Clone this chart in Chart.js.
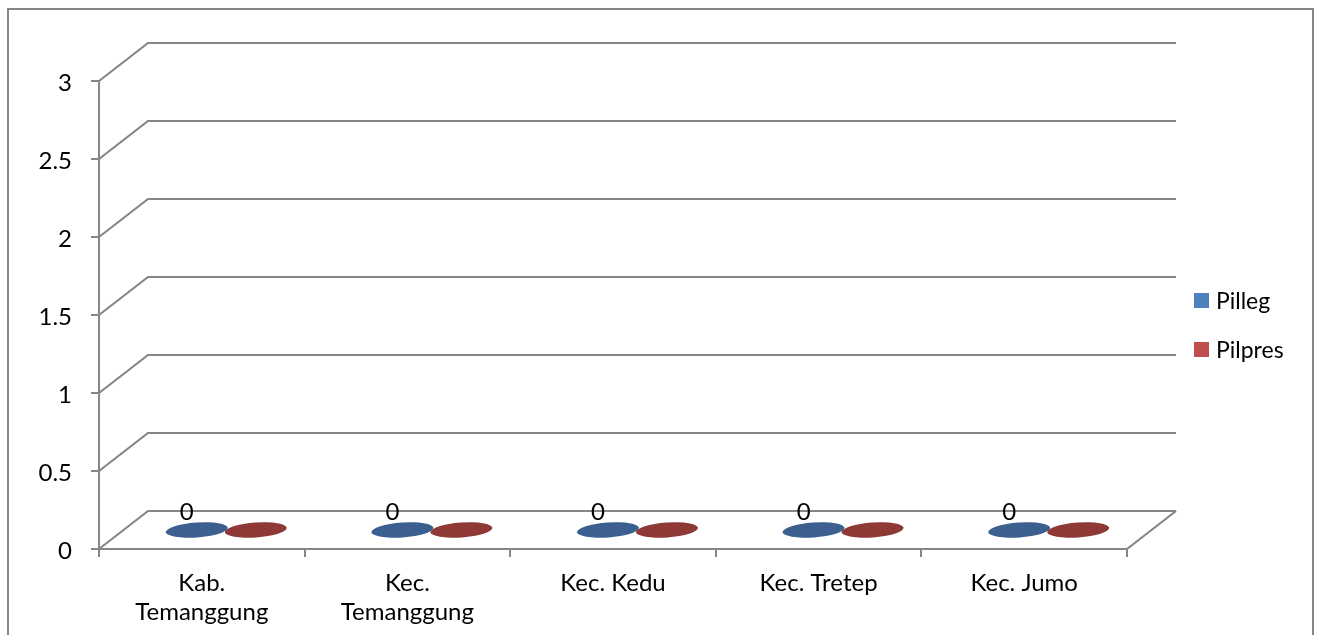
<!DOCTYPE html>
<html>
<head>
<meta charset="utf-8">
<title>Pilleg dan Pilpres</title>
<script src="https://cdn.jsdelivr.net/npm/chart.js@4/dist/chart.umd.min.js"></script>
<style>
  html, body { margin: 0; padding: 0; background: #ffffff; }
  canvas { display: block; }
</style>
</head>
<body>
<canvas id="chart" width="1318" height="635"></canvas>
<script>
// Categories (regions) and the two series
const categories = [["Kab.", "Temanggung"], ["Kec.", "Temanggung"], "Kec. Kedu", "Kec. Tretep", "Kec. Jumo"];
const pillegValues = [0, 0, 0, 0, 0];
const pilpresValues = [0, 0, 0, 0, 0];
const yTickValues = [0, 0.5, 1, 1.5, 2, 2.5, 3];
const seriesNames = ["Pilleg", "Pilpres"];

// Styling
const FONT = "Lato, 'Open Sans', sans-serif";
const AXIS_GRAY = "#868686";
const DEPTH_X = 49;     // depth offset of the back wall
const DEPTH_Y = -38;
const legendColors = ["#4f81bd", "#c0504d"];
const topColors = ["#3b5f8e", "#8f3936"];
const sideColors = ["#4a74a8", "#a8413e"];

// Frame, back wall, side wall, floor and legend drawn around the plot
const frame3d = {
  id: "frame3d",
  beforeDraw(chart) {
    const ctx = chart.ctx;
    ctx.save();
    ctx.fillStyle = "#ffffff";
    ctx.fillRect(0, 0, chart.width, chart.height);
    ctx.strokeStyle = AXIS_GRAY;
    ctx.lineWidth = 2;
    ctx.strokeRect(8, 9, 1305, 700);
    ctx.restore();
  },
  beforeDatasetsDraw(chart) {
    const ctx = chart.ctx;
    const y = chart.scales.y;
    const ca = chart.chartArea;
    ctx.save();
    ctx.strokeStyle = AXIS_GRAY;
    ctx.lineWidth = 2.2;
    ctx.lineJoin = "miter";
    y.ticks.forEach(t => {
      const py = y.getPixelForValue(t.value);
      ctx.beginPath();
      ctx.moveTo(ca.left, py);
      ctx.lineTo(ca.left + DEPTH_X, py + DEPTH_Y);
      ctx.lineTo(ca.right + DEPTH_X, py + DEPTH_Y);
      ctx.stroke();
    });
    // right edge of the floor
    const p0 = y.getPixelForValue(0);
    ctx.beginPath();
    ctx.moveTo(ca.right, p0);
    ctx.lineTo(ca.right + DEPTH_X, p0 + DEPTH_Y);
    ctx.stroke();
    ctx.restore();
  },
  afterDatasetsDraw(chart) {
    const ctx = chart.ctx;
    ctx.save();
    chart.data.datasets.forEach((ds, di) => {
      const meta = chart.getDatasetMeta(di);
      meta.data.forEach((el, i) => {
        const cx = el.x + DEPTH_X / 2;
        const topY = el.y + DEPTH_Y / 2;
        const baseY = el.base + DEPTH_Y / 2;
        const rx = el.width / 2 + 1.5;
        const ry = 7.5;
        const tilt = -0.07;
        if (Math.abs(baseY - topY) > 0.5) {
          ctx.fillStyle = sideColors[di];
          ctx.beginPath();
          ctx.ellipse(cx, baseY, rx, ry, tilt, 0, Math.PI * 2);
          ctx.fill();
          ctx.fillRect(cx - rx, Math.min(topY, baseY), rx * 2, Math.abs(baseY - topY));
        }
        ctx.fillStyle = topColors[di];
        ctx.beginPath();
        ctx.ellipse(cx, topY, rx, ry, tilt, 0, Math.PI * 2);
        ctx.fill();
        if (di === 0) {
          ctx.fillStyle = "#000000";
          ctx.font = "24px " + FONT;
          ctx.textAlign = "center";
          ctx.textBaseline = "middle";
          ctx.fillText(String(ds.data[i]), cx - 10, topY - 18);
        }
      });
    });
    ctx.restore();
  },
  afterDraw(chart) {
    const ctx = chart.ctx;
    ctx.save();
    ctx.font = "23px " + FONT;
    ctx.textAlign = "left";
    ctx.textBaseline = "middle";
    chart.data.datasets.forEach((ds, i) => {
      const cy = 300.5 + i * 49;
      ctx.fillStyle = ds.backgroundColor;
      ctx.fillRect(1194, cy - 7.5, 15, 15);
      ctx.fillStyle = "#000000";
      ctx.fillText(ds.label, 1216, cy + 1);
    });
    ctx.restore();
  }
};

new Chart(document.getElementById("chart"), {
  type: "bar",
  data: {
    labels: categories,
    datasets: [
      { label: seriesNames[0], data: pillegValues, backgroundColor: legendColors[0] },
      { label: seriesNames[1], data: pilpresValues, backgroundColor: legendColors[1] }
    ]
  },
  options: {
    responsive: false,
    devicePixelRatio: 1,
    animation: false,
    categoryPercentage: 0.574,
    barPercentage: 1,
    layout: { padding: { top: 81, right: 191, left: 0, bottom: 0 } },
    plugins: {
      legend: { display: false },
      tooltip: { enabled: false }
    },
    scales: {
      x: {
        type: "category",
        offset: true,
        grid: { offset: true, drawOnChartArea: false, drawTicks: true, tickLength: 8, color: AXIS_GRAY, lineWidth: 2 },
        border: { display: true, color: AXIS_GRAY, width: 2 },
        ticks: {
          color: "#000000",
          font: { family: FONT, size: 24, lineHeight: 1.21 },
          padding: 12,
          maxRotation: 0,
          autoSkip: false
        },
        afterFit(scale) { scale.height = 86; }
      },
      y: {
        min: 0,
        max: 3,
        afterBuildTicks(scale) { scale.ticks = yTickValues.map(v => ({ value: v })); },
        grid: { drawOnChartArea: false, drawTicks: true, tickLength: 8, color: AXIS_GRAY, lineWidth: 2 },
        border: { display: true, color: AXIS_GRAY, width: 2 },
        ticks: {
          color: "#000000",
          font: { family: FONT, size: 24 },
          padding: 19,
          labelOffset: 2,
          callback: v => String(v)
        },
        afterFit(scale) { scale.width = 99; }
      }
    }
  },
  plugins: [frame3d]
});

// cancel the flat default bars; cylinders are drawn by the plugin above
Chart.register({ id: "noFlatBars", beforeDatasetDraw() { return false; } });
</script>
</body>
</html>
